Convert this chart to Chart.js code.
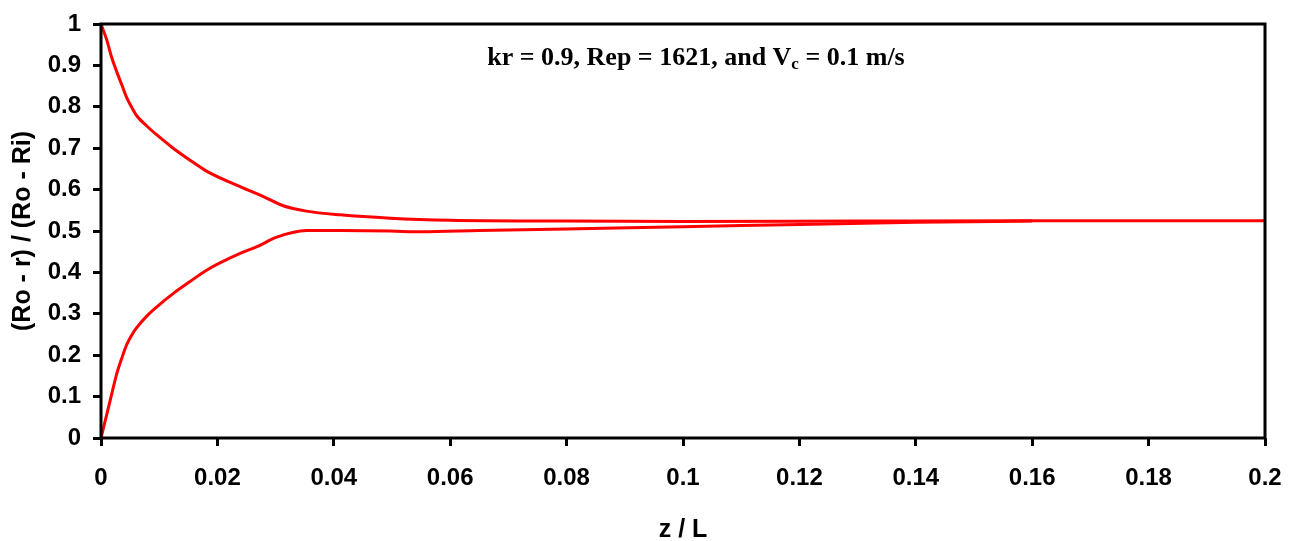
<!DOCTYPE html>
<html>
<head>
<meta charset="utf-8">
<script src="https://cdn.jsdelivr.net/npm/chart.js@4"></script>
<style>
  html, body { margin: 0; padding: 0; background: #fff; }
  #wrap { width: 1294px; height: 541px; }
</style>
</head>
<body>
<div id="wrap"><canvas id="profile"></canvas></div>
<script>
// outer branch
const zUpper = [0, 0.001, 0.0018, 0.0027, 0.0036, 0.0044, 0.0053, 0.0061, 0.0079, 0.0096, 0.0124,
  0.0153, 0.0182, 0.0239, 0.0279, 0.0313, 0.0353, 0.0411, 0.0497, 0.06, 0.08, 0.1, 0.13, 0.16, 0.2];
const rUpper = [1, 0.961, 0.921, 0.885, 0.852, 0.823, 0.798, 0.779, 0.753, 0.732, 0.700,
  0.671, 0.644, 0.607, 0.583, 0.561, 0.548, 0.539, 0.531, 0.526, 0.524, 0.523, 0.524, 0.525, 0.525];

// inner branch
const zLower = [0, 0.0016, 0.0027, 0.0036, 0.0044, 0.0053, 0.0061, 0.0079, 0.0096, 0.0125, 0.0153, 0.0182,
  0.0239, 0.0268, 0.0302, 0.0353, 0.0411, 0.0497, 0.055, 0.065, 0.08, 0.1, 0.12, 0.14, 0.16];
const rLower = [0, 0.092, 0.155, 0.194, 0.225, 0.249, 0.266, 0.295, 0.317, 0.35, 0.378, 0.406,
  0.446, 0.462, 0.485, 0.501, 0.501, 0.500, 0.498, 0.501, 0.505, 0.510, 0.516, 0.521, 0.524];

const xTicks = [0, 0.02, 0.04, 0.06, 0.08, 0.1, 0.12, 0.14, 0.16, 0.18, 0.2];
const yTicks = [0, 0.1, 0.2, 0.3, 0.4, 0.5, 0.6, 0.7, 0.8, 0.9, 1];

const note = { kr: 0.9, rep: 1621, vc: 0.1 };

function toPoints(xs, ys) {
  let pts = [];
  for (let i = 0; i < xs.length; i++) {
    pts.push({ x: xs[i], y: ys[i] });
  }
  return pts;
}

function fmt(v) {
  return String(Number(v.toFixed(2)));
}

// box round the plot area
const framePlugin = {
  id: 'frame',
  afterDraw(chart) {
    const a = chart.chartArea;
    const ctx = chart.ctx;
    ctx.save();
    ctx.strokeStyle = '#000';
    ctx.lineWidth = 3;
    ctx.strokeRect(a.left, a.top, a.right - a.left, a.bottom - a.top);
    ctx.restore();
  }
};

// the text in the plot, with V sub c
const notePlugin = {
  id: 'note',
  afterDraw(chart) {
    const ctx = chart.ctx;
    const big = 'bold 26px "Liberation Serif", "Times New Roman", serif';
    const small = 'bold 17px "Liberation Serif", "Times New Roman", serif';
    const partA = 'kr = ' + note.kr + ', Rep = ' + note.rep + ', and V';
    const partB = 'c';
    const partC = ' = ' + note.vc + ' m/s';
    ctx.save();
    ctx.fillStyle = '#000';
    ctx.textBaseline = 'alphabetic';
    ctx.font = big;
    const wA = ctx.measureText(partA).width;
    const wC = ctx.measureText(partC).width;
    ctx.font = small;
    const wB = ctx.measureText(partB).width;
    let x = 696 - (wA + wB + wC) / 2;
    const y = 65;
    ctx.font = big;
    ctx.fillText(partA, x, y);
    x += wA;
    ctx.font = small;
    ctx.fillText(partB, x, y + 4);
    x += wB;
    ctx.font = big;
    ctx.fillText(partC, x, y);
    ctx.restore();
  }
};

function lineSet(pts) {
  return {
    data: pts,
    borderColor: '#ff0000',
    backgroundColor: '#ff0000',
    borderWidth: 3,
    pointRadius: 0,
    fill: false,
    showLine: true,
    cubicInterpolationMode: 'monotone'
  };
}

const tickFont = { family: '"Liberation Sans", Arial, sans-serif', weight: 'bold', size: 24 };

const ctx = document.getElementById('profile').getContext('2d');
const chart = new Chart(ctx, {
  type: 'scatter',
  data: {
    datasets: [lineSet(toPoints(zUpper, rUpper)), lineSet(toPoints(zLower, rLower))]
  },
  options: {
    responsive: true,
    maintainAspectRatio: false,
    animation: false,
    layout: { padding: { left: 0, top: 24, right: 29, bottom: 0 } },
    plugins: {
      legend: { display: false },
      tooltip: { enabled: false }
    },
    scales: {
      x: {
        type: 'linear',
        min: 0,
        max: 0.2,
        afterFit(scale) {
          scale.height = 103;
          scale.paddingLeft = 0;
          scale.paddingRight = 0;
        },
        afterBuildTicks(scale) { scale.ticks = xTicks.map(v => ({ value: v })); },
        grid: { drawOnChartArea: false, drawTicks: true, tickLength: 8, color: '#000', lineWidth: 3 },
        border: { display: false },
        ticks: { color: '#000', font: tickFont, padding: 18, maxRotation: 0, callback: v => fmt(v) },
        title: {
          display: true,
          text: 'z / L',
          color: '#000',
          font: { family: '"Liberation Sans", Arial, sans-serif', weight: 'bold', size: 25, lineHeight: 0.9 },
          padding: { top: 0, bottom: 0 }
        }
      },
      y: {
        type: 'linear',
        min: 0,
        max: 1,
        afterFit(scale) {
          scale.width = 101;
          scale.paddingTop = 0;
          scale.paddingBottom = 0;
        },
        afterBuildTicks(scale) { scale.ticks = yTicks.map(v => ({ value: v })); },
        grid: { drawOnChartArea: false, drawTicks: true, tickLength: 8, color: '#000', lineWidth: 3 },
        border: { display: false },
        ticks: { color: '#000', font: tickFont, padding: 12, callback: v => fmt(v) },
        title: {
          display: true,
          text: '(Ro - r) / (Ro - Ri)',
          color: '#000',
          font: { family: '"Liberation Sans", Arial, sans-serif', weight: 'bold', size: 25 },
          padding: { top: 8, bottom: 0 }
        }
      }
    }
  },
  plugins: [framePlugin, notePlugin]
});
</script>
</body>
</html>
